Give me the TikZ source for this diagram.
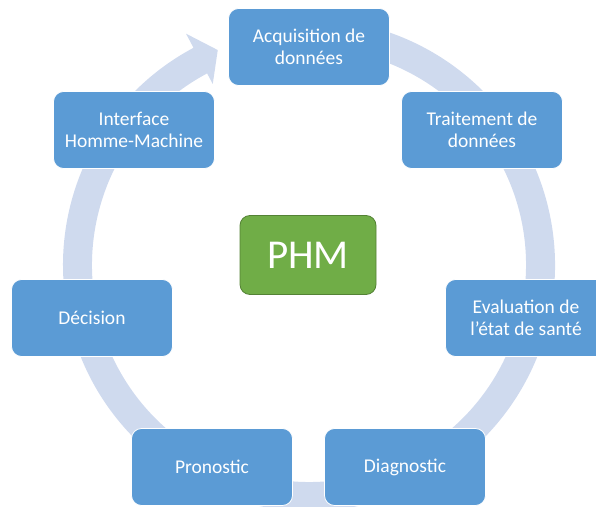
\documentclass[tikz,border=0pt]{standalone}
\usepackage{fontspec}
\setmainfont{Carlito}
\usetikzlibrary{positioning}
\definecolor{stageblue}{RGB}{91,155,213}
\definecolor{ringblue}{RGB}{207,218,238}
\definecolor{phmgreen}{RGB}{112,173,71}
\definecolor{phmedge}{RGB}{84,130,53}

\begin{document}
\begin{tikzpicture}[
  x=1pt, y=1pt,
  font=\fontsize{19.5}{21.5}\selectfont,
  stage/.style={rectangle, rounded corners=10pt, draw=white, line width=0.8pt,
                fill=stageblue, text=white, align=center, inner sep=0pt,
                minimum width=161pt, minimum height=77pt},
  core/.style={rectangle, rounded corners=10pt, draw=phmedge, line width=0.8pt,
               fill=phmgreen, text=white, inner sep=0pt,
               minimum width=136pt, minimum height=79pt,
               font=\fontsize{41}{45}\selectfont},
  ring/.style={fill=ringblue},
]
\clip (0,0) rectangle (596,506);
\coordinate (ctr) at (309,241);

% the cycle arrow behind the boxes
\fill[ring, shift={(ctr)}] (100:246) arc[start angle=100, end angle=-242, radius=246]
  -- (-242:262) -- (-247:233.5) -- (-242:205) -- (-242:217)
  arc[start angle=-242, end angle=100, radius=217] -- cycle;

\node[stage] (acq)   at (309,459) {Acquisition de\\données};
\node[stage] (trait) at (482,376) {Traitement de\\données};
\node[stage] (eval)  at (526,188) {Evaluation de\\l’état de santé};
\node[stage] (diag)  at (405,39)  {Diagnostic};
\node[stage] (pron)  at (212,39)  {Pronostic};
\node[stage] (dec)   at (92,188)  {Décision};
\node[stage] (ihm)   at (134,376) {Interface\\Homme-Machine};

\node[core] (phm) at (308,251) {PHM};
\end{tikzpicture}
\end{document}
